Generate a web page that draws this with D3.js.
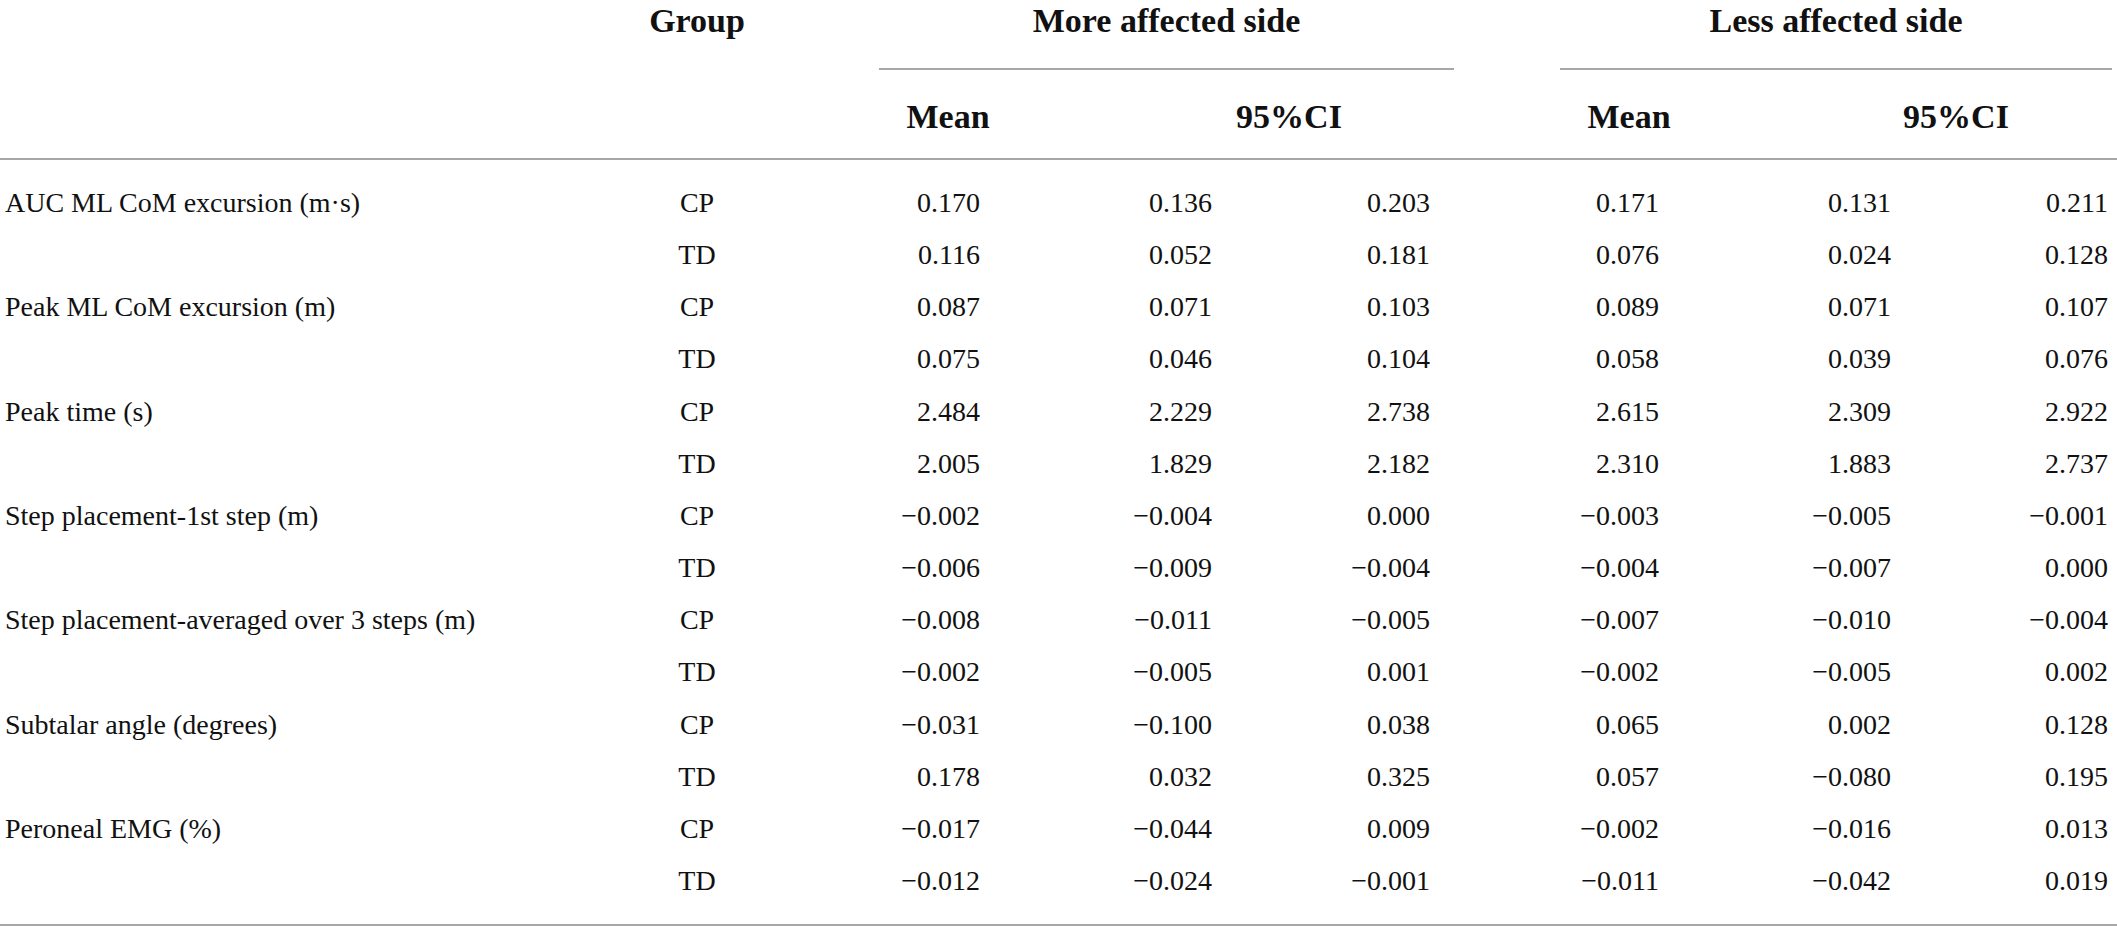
<!DOCTYPE html>
<html>
<head>
<meta charset="utf-8">
<script src="https://cdn.jsdelivr.net/npm/d3@7"></script>
<style>
  body { margin: 0; background: #fff; }
  svg text { font-family: "Liberation Serif", "Times New Roman", serif; fill: #111; }
</style>
</head>
<body>
<div id="table"></div>
<script>
// table content
const measures = [
  "AUC ML CoM excursion (m\u00b7s)",
  "Peak ML CoM excursion (m)",
  "Peak time (s)",
  "Step placement-1st step (m)",
  "Step placement-averaged over 3 steps (m)",
  "Subtalar angle (degrees)",
  "Peroneal EMG (%)"
]
const groups = ["CP", "TD"]
const sides = ["More affected side", "Less affected side"]
const subHeaders = ["Mean", "95%CI", "Mean", "95%CI"]

// one value per row (CP, TD for each measure)
const moreMean = [0.170, 0.116, 0.087, 0.075, 2.484, 2.005, -0.002, -0.006, -0.008, -0.002, -0.031, 0.178, -0.017, -0.012]
const moreLow  = [0.136, 0.052, 0.071, 0.046, 2.229, 1.829, -0.004, -0.009, -0.011, -0.005, -0.100, 0.032, -0.044, -0.024]
const moreHigh = [0.203, 0.181, 0.103, 0.104, 2.738, 2.182, 0.000, -0.004, -0.005, 0.001, 0.038, 0.325, 0.009, -0.001]
const lessMean = [0.171, 0.076, 0.089, 0.058, 2.615, 2.310, -0.003, -0.004, -0.007, -0.002, 0.065, 0.057, -0.002, -0.011]
const lessLow  = [0.131, 0.024, 0.071, 0.039, 2.309, 1.883, -0.005, -0.007, -0.010, -0.005, 0.002, -0.080, -0.016, -0.042]
const lessHigh = [0.211, 0.128, 0.107, 0.076, 2.922, 2.737, -0.001, 0.000, -0.004, 0.002, 0.128, 0.195, 0.013, 0.019]

const width = 2117, height = 931
const fmt = d3.format(".3f")

const rows = []
measures.forEach((m, i) => {
  groups.forEach((g, j) => {
    const k = i * 2 + j
    rows.push({
      label: j === 0 ? m : "",
      group: g,
      vals: [moreMean[k], moreLow[k], moreHigh[k], lessMean[k], lessLow[k], lessHigh[k]]
    })
  })
})

const svg = d3.select("#table").append("svg")
  .attr("width", width)
  .attr("height", height)

// row baselines
const y = d3.scaleLinear().domain([0, rows.length - 1]).range([212, 890])
// numeric columns (right edges)
const xVal = d3.scaleOrdinal().domain(d3.range(6)).range([980, 1212, 1430, 1659, 1891, 2108])
// header centres
const xSub = d3.scaleOrdinal().domain(d3.range(4)).range([948, 1289, 1629, 1956])
const xSide = d3.scaleOrdinal().domain(sides).range([[879, 1454], [1560, 2112]])
const xGroup = 697

// rules
const rule = "#a7a7a7"
svg.selectAll(".span-rule")
  .data(sides)
  .join("line")
  .attr("class", "span-rule")
  .attr("x1", d => xSide(d)[0])
  .attr("x2", d => xSide(d)[1])
  .attr("y1", 69).attr("y2", 69)
  .attr("stroke", rule).attr("stroke-width", 2)

svg.selectAll(".h-rule")
  .data([159, 925])
  .join("line")
  .attr("class", "h-rule")
  .attr("x1", 0).attr("x2", width)
  .attr("y1", d => d).attr("y2", d => d)
  .attr("stroke", rule).attr("stroke-width", 2)

// headers
svg.append("text")
  .attr("x", xGroup).attr("y", 32)
  .attr("text-anchor", "middle")
  .style("font-size", "34px").style("font-weight", "bold")
  .text("Group")

svg.selectAll(".side")
  .data(sides)
  .join("text")
  .attr("class", "side")
  .attr("x", d => d3.mean(xSide(d)))
  .attr("y", 32)
  .attr("text-anchor", "middle")
  .style("font-size", "34px").style("font-weight", "bold")
  .text(d => d)

svg.selectAll(".sub")
  .data(subHeaders)
  .join("text")
  .attr("class", "sub")
  .attr("x", (d, i) => xSub(i))
  .attr("y", 128)
  .attr("text-anchor", "middle")
  .style("font-size", "34px").style("font-weight", "bold")
  .text(d => d)

// body
const row = svg.selectAll(".row")
  .data(rows)
  .join("g")
  .attr("class", "row")
  .attr("transform", (d, i) => `translate(0,${y(i)})`)
  .style("font-size", "28px")

row.append("text")
  .attr("x", 5)
  .text(d => d.label)

row.append("text")
  .attr("x", xGroup)
  .attr("text-anchor", "middle")
  .text(d => d.group)

row.selectAll(".val")
  .data(d => d.vals)
  .join("text")
  .attr("class", "val")
  .attr("x", (d, i) => xVal(i))
  .attr("text-anchor", "end")
  .text(d => fmt(d))
</script>
</body>
</html>
